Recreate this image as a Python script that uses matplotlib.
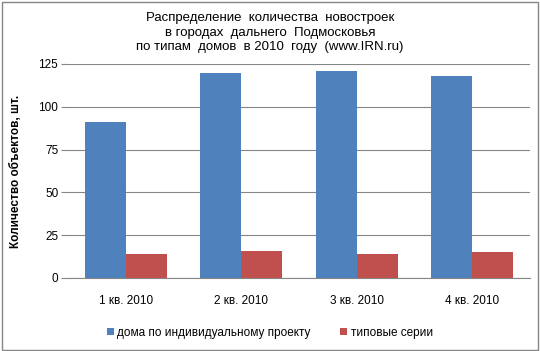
#!/usr/bin/env python3
import matplotlib.pyplot as plt
import numpy as np

categories = ['1 кв. 2010', '2 кв. 2010', '3 кв. 2010', '4 кв. 2010']
individual = [91, 120, 121, 118]
typical = [14, 16, 14, 15]
series_names = ['дома по индивидуальному проекту', 'типовые серии']

plt.rcParams['font.family'] = ['Liberation Sans', 'DejaVu Sans']

fig = plt.figure(figsize=(5.4, 3.51), dpi=100)
ax = fig.add_axes([68 / 540, 1 - 278 / 351, 462 / 540, 214 / 351])

x = np.arange(len(categories))
w = 0.355
ax.bar(x - w / 2, individual, w, color='#4f81bd', label=series_names[0], zorder=3)
ax.bar(x + w / 2, typical, w, color='#c0504d', label=series_names[1], zorder=3)

ax.set_xlim(-0.5, len(categories) - 0.5)
ax.set_ylim(0, 125)
ax.set_yticks([0, 25, 50, 75, 100, 125])
ax.set_xticks(x)
ax.set_xticklabels(categories, fontsize=8.5)
ax.tick_params(axis='y', labelsize=8.5, length=5, color='#868686', pad=2)
ax.tick_params(axis='x', length=0, pad=12)
ax.yaxis.grid(True, color='#868686', linewidth=0.8, zorder=0)

for side in ['top', 'right', 'left']:
    ax.spines[side].set_visible(False)
ax.spines['bottom'].set_color('#868686')

ax.set_ylabel('Количество объектов, шт.', fontsize=8.5, fontweight='bold', labelpad=12)

fig.text(0.5, 0.966,
         'Распределение  количества  новостроек\n'
         'в городах  дальнего  Подмосковья\n'
         'по типам  домов  в 2010  году  (www.IRN.ru)',
         ha='center', va='top', fontsize=9.5, linespacing=1.3, color='black')

fig.legend(loc='lower center', bbox_to_anchor=(0.5, 0.005), ncol=2, frameon=False,
           fontsize=8.5, handlelength=0.6, handleheight=0.6, handletextpad=0.3,
           columnspacing=2.5)

border = plt.Rectangle((0.003, 0.004), 0.993, 0.99, transform=fig.transFigure,
                       fill=False, edgecolor='#868686', linewidth=1)
fig.patches.append(border)

fig.savefig('out.png', dpi=100)
